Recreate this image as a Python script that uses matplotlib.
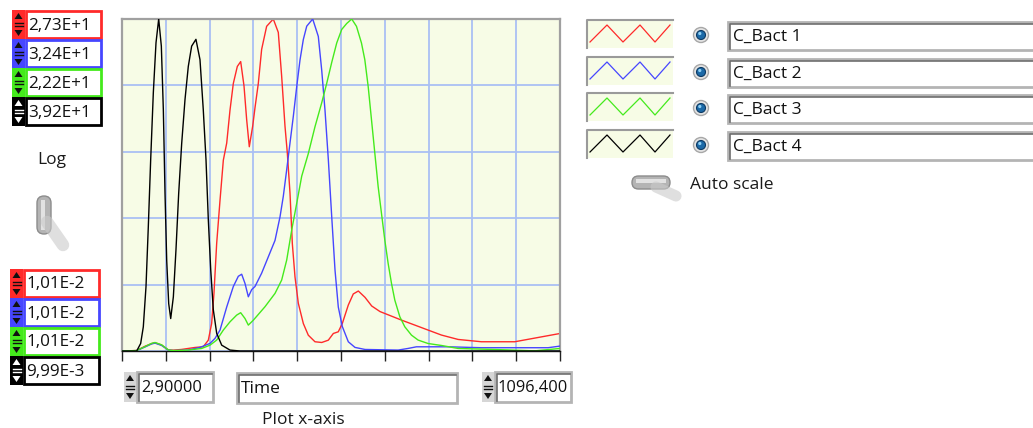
import numpy as np
import matplotlib.pyplot as plt
from matplotlib.patches import Rectangle, Polygon, Circle, FancyBboxPatch

W, H = 1033, 428

series_names = ['C_Bact 1', 'C_Bact 2', 'C_Bact 3', 'C_Bact 4']
series_colors = ['#ff2a2a', '#4646ff', '#44ea1c', '#000000']
scale_max = [27.3, 32.4, 22.2, 39.2]
scale_min = [0.0101, 0.0101, 0.0101, 0.00999]
scale_max_labels = ['2,73E+1', '3,24E+1', '2,22E+1', '3,92E+1']
scale_min_labels = ['1,01E-2', '1,01E-2', '1,01E-2', '9,99E-3']
x_min, x_max = 2.9, 1096.4
x_min_label, x_max_label = '2,90000', '1096,400'
x_name = 'Time'

# concentration vs time, one list pair per bacterium
t_red = [2.9, 39.6, 60.3, 76.9, 85.3, 101.9, 118.5, 131.0, 151.8, 185.0, 205.8, 218.4, 226.7,
         232.5, 239.3, 247.6, 255.9, 264.3, 272.5, 280.8, 290.8, 299.2, 307.5, 314.2, 320.7,
         329.2, 334.9, 343.2, 351.5, 364.0, 380.6, 393.1, 401.5, 409.8, 415.6, 422.3, 428.1,
         434.8, 443.1, 455.6, 468.0, 484.7, 501.5, 518.0, 530.5, 542.9, 552.9, 567.9, 580.3,
         592.9, 609.6, 626.3, 647.1, 667.8, 700.6, 733.9, 767.1, 800.4, 842.0, 900.2, 983.4,
         1041.6, 1096.4]
c_red = [0.01, 0.05, 0.40, 0.62, 0.69, 0.50, 0.10, 0.08, 0.14, 0.30, 0.36, 0.90, 2.27,
         4.75, 8.87, 12.4, 15.7, 17.1, 19.8, 22.0, 23.4, 23.8, 21.8, 19.0, 16.8,
         18.5, 20.0, 22.0, 24.8, 26.7, 27.3, 26.2, 22.6, 18.5, 16.3, 13.0, 8.85,
         6.1, 3.93, 2.27, 1.31, 0.77, 0.71, 0.90, 1.45, 1.59, 2.27, 3.79, 4.70,
         4.94, 4.42, 3.71, 3.25, 2.98, 2.55, 2.14, 1.73, 1.32, 0.96, 0.77, 0.77,
         1.12, 1.45]

t_blue = [2.9, 39.6, 60.3, 76.9, 85.3, 101.9, 118.5, 131.0, 167.6, 197.6, 222.6, 235.1,
          247.6, 264.3, 280.8, 293.3, 301.7, 310.0, 318.3, 326.7, 334.9, 351.5, 368.2, 384.9,
          397.4, 405.6, 414.1, 422.3, 430.6, 439.1, 447.3, 455.6, 464.1, 479.0, 493.0, 501.5,
          509.7, 518.0, 526.5, 534.7, 542.9, 552.9, 567.9, 584.6, 609.6, 692.3, 717.2, 738.0,
          817.0, 900.2, 983.4, 1066.5, 1096.4]
c_blue = [0.01, 0.05, 0.40, 0.70, 0.78, 0.55, 0.10, 0.05, 0.10, 0.36, 0.75, 1.24,
          2.05, 4.3, 6.3, 7.3, 7.5, 6.6, 5.3, 6.0, 6.3, 7.6, 9.2, 10.8,
          13.1, 15.1, 17.7, 20.3, 22.9, 25.8, 28.4, 30.4, 31.7, 32.4, 30.7, 27.4,
          23.5, 18.7, 13.1, 7.9, 4.3, 2.4, 0.91, 0.36, 0.16, 0.10, 0.26, 0.42,
          0.42, 0.33, 0.33, 0.33, 0.49]

t_green = [2.9, 39.6, 60.3, 76.9, 85.3, 101.9, 118.5, 131.0, 167.6, 201.7, 222.6, 239.3,
           255.9, 272.5, 289.2, 299.2, 310.0, 318.3, 330.8, 359.9, 384.9, 401.5, 414.1, 426.6,
           439.1, 451.6, 468.0, 484.7, 501.5, 514.0, 526.5, 539.0, 551.4, 563.9, 576.4, 588.3,
           600.8, 609.1, 617.5, 625.8, 634.1, 642.4, 650.7, 659.0, 667.3, 675.7, 684.0, 696.5,
           708.9, 725.6, 742.2, 767.1, 800.4, 842.0, 933.5, 1033.3, 1096.4]
c_green = [0.01, 0.04, 0.30, 0.52, 0.58, 0.42, 0.08, 0.04, 0.07, 0.18, 0.40, 0.74,
           1.41, 1.96, 2.41, 2.57, 2.18, 1.74, 2.07, 2.97, 3.86, 4.75, 6.09, 8.10,
           9.88, 11.7, 13.2, 15.0, 16.6, 17.9, 19.3, 20.6, 21.5, 21.9, 22.2, 21.71,
           20.59, 19.48, 17.69, 15.46, 13.23, 11.00, 9.21, 7.43, 5.87, 4.53, 3.41, 2.30,
           1.63, 1.07, 0.74, 0.51, 0.38, 0.18, 0.11, 0.02, 0.18]

t_black = [2.9, 39.6, 49.5, 56.1, 62.8, 68.6, 74.5, 81.1, 87.8, 94.5, 101.1, 106.1, 110.3,
           114.5, 119.5, 124.5, 131.1, 137.7, 144.4, 151.9, 160.2, 168.4, 176.8, 187.5, 197.6,
           205.8, 212.6, 218.4, 224.4, 230.8, 239.3, 251.8, 272.5, 297.5, 1096.4]
c_black = [0.01, 0.01, 0.90, 2.86, 7.60, 14.7, 22.6, 30.5, 36.4, 39.2, 36.0, 28.5, 18.6,
           10.7, 5.6, 3.84, 6.4, 12.0, 18.6, 24.5, 29.7, 33.6, 36.0, 36.8, 34.4,
           28.5, 22.6, 15.5, 9.6, 4.9, 2.1, 0.7, 0.12, 0.01, 0.01]

times = [t_red, t_blue, t_green, t_black]
concs = [c_red, c_blue, c_green, c_black]

FONT = ['Open Sans', 'DejaVu Sans']
PLOT_BG = '#f7fce6'
GRID = '#aac0f4'


def sunken_box(ax, x, y, w, h, face='white'):
    ax.add_patch(Rectangle((x, y), w, h, facecolor=face, edgecolor='#b4b4b4', lw=2))
    ax.plot([x + 1.5, x + 1.5, x + w - 1.5], [y + h - 1.5, y + 1.5, y + 1.5],
            color='#6e6e6e', lw=1.2)


def spinner(ax, x, y, w, h, face, arrow):
    ax.add_patch(Rectangle((x, y), w, h, facecolor=face, edgecolor='none'))
    cx, mid = x + w / 2, y + h / 2
    ax.add_patch(Polygon([(cx - 4, y + 9), (cx + 4, y + 9), (cx, y + 3)], color=arrow, lw=0))
    ax.add_patch(Polygon([(cx - 4, y + h - 9), (cx + 4, y + h - 9), (cx, y + h - 3)],
                         color=arrow, lw=0))
    ax.plot([cx - 4, cx + 4], [mid - 1.5, mid - 1.5], color=arrow, lw=1)
    ax.plot([cx - 4, cx + 4], [mid + 1.5, mid + 1.5], color=arrow, lw=1)


def scale_box(ax, x, y, w, h, color, label):
    arrow = 'white' if color == '#000000' else '#101010'
    spinner(ax, x, y, 13, h, color, arrow)
    ax.add_patch(Rectangle((x + 14, y + 1), w - 15, h - 2, facecolor='white',
                           edgecolor=color, lw=2))
    ax.text(x + 16, y + h / 2 + 1, label, fontsize=12.3, family=FONT,
            va='center', ha='left', color='#111111')


def radio(ax, cx, cy):
    ax.add_patch(Circle((cx, cy), 7.5, facecolor='#e4e4e4', edgecolor='#a8a8a8', lw=1))
    ax.add_patch(Circle((cx, cy), 4.5, facecolor='#1c6aa8', edgecolor='#0d3a63', lw=0.8))
    ax.add_patch(Circle((cx - 1.2, cy - 1.5), 1.6, facecolor='#8fd0f5', edgecolor='none'))


fig = plt.figure(figsize=(W / 100, H / 100), dpi=100)
fig.patch.set_facecolor('white')

# widget layer in pixel coordinates
ui = fig.add_axes([0, 0, 1, 1])
ui.set_xlim(0, W)
ui.set_ylim(H, 0)
ui.axis('off')

top_rows = [10, 39, 68, 97]
for ry, col, lab in zip(top_rows, series_colors, scale_max_labels):
    scale_box(ui, 12, ry, 90, 29, col, lab)

bot_rows = [269, 298, 327, 356]
for ry, col, lab in zip(bot_rows, series_colors, scale_min_labels):
    scale_box(ui, 10, ry, 90, 29, col, lab)

ui.text(52, 160, 'Log', fontsize=12.5, family=FONT, ha='center', va='center', color='#1a1a1a')
# vertical toggle switch
ui.plot([47, 63], [222, 245], color='#cacaca', lw=9, alpha=0.6, solid_capstyle='round')
ui.add_patch(FancyBboxPatch((37, 196), 14, 38, boxstyle='round,pad=0,rounding_size=7',
                            facecolor='#b4b4b4', edgecolor='#8c8c8c', lw=1))
ui.add_patch(Rectangle((41, 200), 4, 30, facecolor='#e2e2e2', edgecolor='none'))

# x-range controls under the graph
spinner(ui, 124, 372, 12, 30, '#d6d6d6', '#111111')
sunken_box(ui, 137, 372, 76, 30)
ui.text(141, 388, x_min_label, fontsize=11.8, family=FONT, va='center', color='#111111')
sunken_box(ui, 237, 373, 220, 30)
ui.text(241, 389, x_name, fontsize=12.5, family=FONT, va='center', color='#111111')
spinner(ui, 482, 372, 12, 30, '#d6d6d6', '#111111')
sunken_box(ui, 495, 372, 76, 30)
ui.text(497, 388, x_max_label, fontsize=11.8, family=FONT, va='center', color='#111111')
ui.text(303, 420, 'Plot x-axis', fontsize=12.5, family=FONT, ha='center', va='center',
        color='#1a1a1a')

# plot legend
leg_rows = [20, 57, 93, 130]
zig_x = [590, 607, 623, 640, 655, 670]
for ry, col, name in zip(leg_rows, series_colors, series_names):
    ui.add_patch(Rectangle((587, ry), 86, 28, facecolor=PLOT_BG, edgecolor='none'))
    ui.plot([587, 587, 673], [ry + 28, ry, ry], color='#9a9a9a', lw=1.5)
    zig_y = [ry + 22, ry + 5, ry + 22, ry + 5, ry + 22, ry + 5]
    ui.plot(zig_x, zig_y, color=col, lw=0.9)
    radio(ui, 701, ry + 15)
    sunken_box(ui, 728, ry + 2, 320, 28)
    ui.text(733, ry + 17, name, fontsize=12.5, family=FONT, va='center', color='#111111')

# horizontal toggle switch
ui.plot([656, 676], [187, 196], color='#cacaca', lw=8, alpha=0.6, solid_capstyle='round')
ui.add_patch(FancyBboxPatch((632, 176), 38, 13, boxstyle='round,pad=0,rounding_size=6.5',
                            facecolor='#b4b4b4', edgecolor='#8c8c8c', lw=1))
ui.add_patch(Rectangle((636, 179), 30, 3.5, facecolor='#e2e2e2', edgecolor='none'))
ui.text(690, 185, 'Auto scale', fontsize=12.5, family=FONT, va='center', color='#1a1a1a')

# graph: one y scale per series, all sharing the time axis
rect = [122 / W, 1 - 351 / H, 438 / W, 332 / H]
ax = fig.add_axes(rect)
ax.set_facecolor(PLOT_BG)
ax.set_xlim(x_min, x_max)
ax.set_ylim(scale_min[0], scale_max[0])
ax.set_xticks(np.linspace(x_min, x_max, 11))
ax.set_yticks(np.linspace(scale_min[0], scale_max[0], 6))
ax.tick_params(axis='x', direction='out', length=7, width=1, color='#222222',
               labelbottom=False, pad=2)
ax.tick_params(axis='y', length=0, labelleft=False)
ax.grid(True, color=GRID, lw=1.3)
ax.set_axisbelow(True)
for side in ['left', 'top', 'right']:
    ax.spines[side].set_color('#a0a0a0')
    ax.spines[side].set_linewidth(1.6)
ax.spines['bottom'].set_color('#111111')
ax.spines['bottom'].set_linewidth(1)
ax.plot(times[0], concs[0], color=series_colors[0], lw=1)

for i in range(1, 4):
    ov = fig.add_axes(rect, label='series%d' % i)
    ov.patch.set_visible(False)
    ov.set_xlim(x_min, x_max)
    ov.set_ylim(scale_min[i], scale_max[i])
    ov.axis('off')
    ov.plot(times[i], concs[i], color=series_colors[i], lw=1)

fig.savefig('out.png', dpi=100)
